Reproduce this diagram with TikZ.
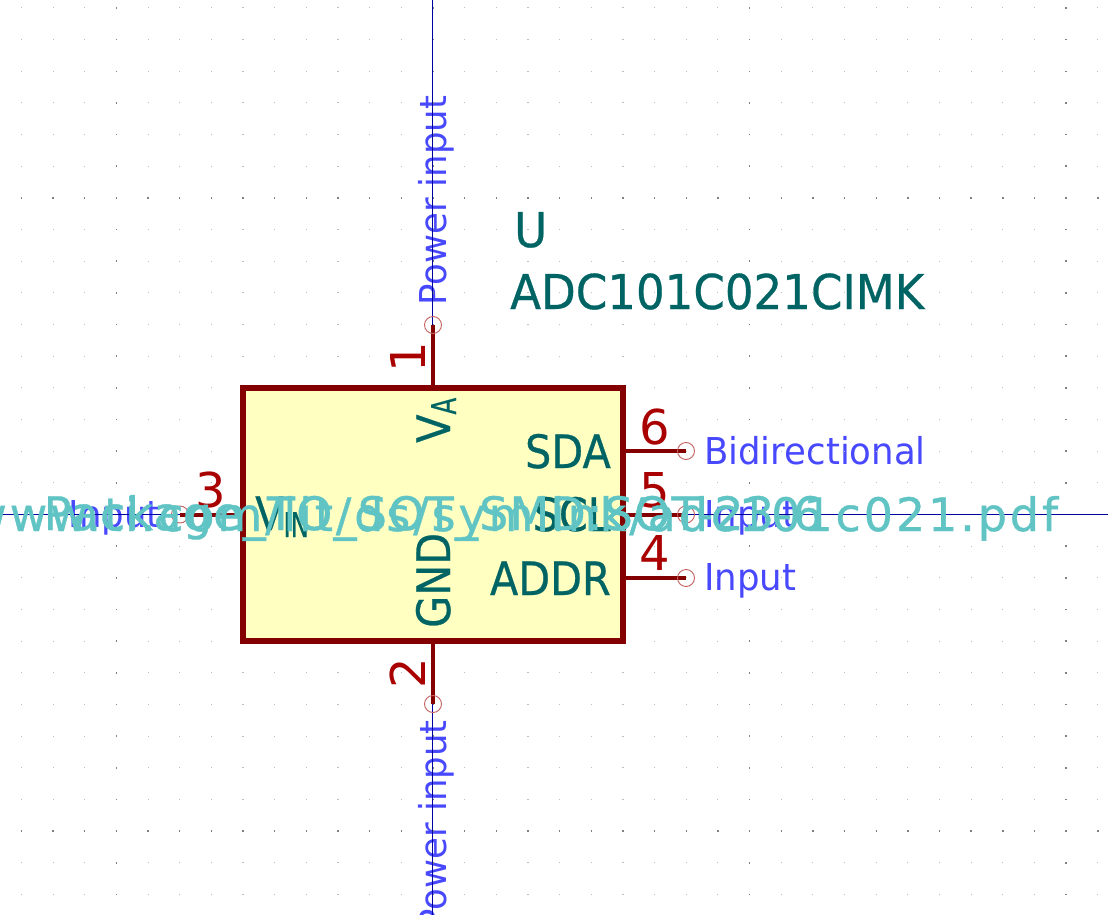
\documentclass[tikz,border=0pt]{standalone}
\usepackage{fontspec}
\usepackage{graphicx}
\usepackage{xcolor}
\setmainfont{DejaVu Sans}
\newfontfamily\datafont[LetterSpace=6.3,FakeBold=.8]{DejaVu Sans}
\newfontfamily\footfont[LetterSpace=2.6,FakeBold=.8]{DejaVu Sans}
\newfontfamily\tealfont[FakeBold=.6]{DejaVu Sans}
\definecolor{pinred}{HTML}{840000}
\definecolor{numred}{HTML}{A90000}
\definecolor{bodyfill}{HTML}{FFFFC2}
\definecolor{labelteal}{HTML}{006464}
\definecolor{typeblue}{HTML}{4848FF}
\definecolor{fieldcyan}{HTML}{60C4C4}
\definecolor{crossblue}{HTML}{0000A0}
\definecolor{endred}{HTML}{C46060}
\tikzset{
  pinline/.style={draw=pinred,line width=4pt},
  pinend/.style={draw=endred,line width=.9pt},
  pinnum/.style={text=numred,font=\fontsize{48}{48}\selectfont,inner sep=0pt},
  pinname/.style={text=labelteal,font=\tealfont\fontsize{46}{46}\selectfont,inner sep=0pt,xscale=.9},
  typelabel/.style={text=typeblue,font=\fontsize{37}{37}\selectfont,inner sep=0pt,xscale=.96},
  fieldtext/.style={text=fieldcyan,inner sep=0pt},
  reftext/.style={text=labelteal,font=\tealfont\fontsize{48}{48}\selectfont,inner sep=0pt,xscale=.94},
}
\newcommand{\pinsub}[2]{\raisebox{#1}{\fontsize{34}{34}\selectfont\scalebox{.8}[1]{#2}}}
\begin{document}
\begin{tikzpicture}[x=1pt,y=-1pt]
\useasboundingbox[fill=white] (0,0) rectangle (1108,915);
\coordinate (P1) at (433,325);
\coordinate (P2) at (433,704);
\coordinate (P3) at (180,514.5);
\coordinate (P4) at (686,578);
\coordinate (P5) at (686,514.5);
\coordinate (P6) at (686,451);
\coordinate (B4) at (623,578);
\coordinate (B6) at (623,451);
\node[rotate=90,typelabel,anchor=base west] (type1) at (446,306) {Power input};
\node[rotate=90,typelabel,anchor=base east] (type2) at (446,720) {Power input};
\node[typelabel,anchor=base east] (type3) at (161,527) {Input};
\node[typelabel,anchor=base west] (type4) at (704,590) {Input};
\node[typelabel,anchor=base west] (type5) at (704,527) {Input};
\node[typelabel,anchor=base west] (type6) at (704,464) {Bidirectional};
\foreach \k in {-13,...,21}
  \foreach \r in {-16,...,12}{
    \pgfmathsetmacro{\xx}{433+31.66*\k}
    \pgfmathsetmacro{\yy}{514.5+31.66*\r}
    \pgfmathtruncatemacro{\major}{(mod(abs(\k),10)==0 || mod(abs(\r),10)==0) ? 1 : 0}
    \ifnum\major=1
      \fill[black!50] (\xx-.75,\yy-.75) rectangle (\xx+.75,\yy+.75);
    \else
      \fill[black!26] (\xx-.55,\yy-.55) rectangle (\xx+.55,\yy+.55);
    \fi
  }
\draw[crossblue,line width=1pt] (432.5,0) -- (432.5,915);
\draw[crossblue,line width=1pt] (0,514.5) -- (1108,514.5);
\node[draw=pinred,fill=bodyfill,line width=6pt,minimum width=380pt,minimum height=253pt,inner sep=0pt] (body) at (433,514.5) {};
\draw[pinline] (body.north) -- (P1);
\draw[pinline] (body.south) -- (P2);
\draw[pinline] (body.west) -- (P3);
\draw[pinline] (B4) -- (P4);
\draw[pinline] (body.east) -- (P5);
\draw[pinline] (B6) -- (P6);
\foreach \p in {P1,P2,P3,P4,P5,P6}
  \draw[pinend] (\p) circle (8.5pt);
\node[rotate=90,pinnum] (num1) at (407.5,357) {1};
\node[rotate=90,pinnum] (num2) at (407.5,673) {2};
\node[pinnum] (num3) at (211,490) {3};
\node[pinnum] (num4) at (655,553) {4};
\node[pinnum] (num5) at (655,490) {5};
\node[pinnum] (num6) at (655,427) {6};
\node[pinname,anchor=base east] (sda) at (611,468) {SDA};
\node[pinname,anchor=base east] (scl) at (611,531) {SCL};
\node[pinname,anchor=base east] (addr) at (611,595) {ADDR};
\node[pinname,anchor=base west] (vin) at (255,530) {V\pinsub{-7pt}{IN}};
\node[rotate=90,pinname,anchor=base west] (gnd) at (450,628) {GND};
\node[rotate=90,pinname,anchor=base west] (va) at (450,443) {V\pinsub{-6pt}{A}};
\node[reftext,anchor=base west] (ref) at (514,247) {U};
\node[reftext,anchor=base west] (value) at (510,309) {ADC101C021CIMK};
\node[fieldtext,anchor=base,font=\footfont\fontsize{46}{46}\selectfont] (footprint) at (433,530) {Package\_TO\_SOT\_SMD:SOT-23-6};
\node[fieldtext,anchor=base,font=\datafont\fontsize{46}{46}\selectfont] (datasheet) at (433,531) {http://www.ti.com/lit/ds/symlink/adc101c021.pdf};
\end{tikzpicture}
\end{document}
